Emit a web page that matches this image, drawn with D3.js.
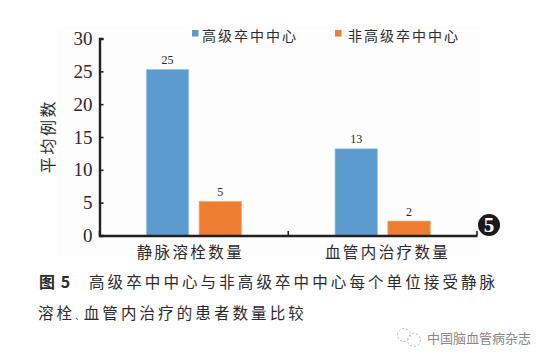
<!DOCTYPE html>
<html><head><meta charset="utf-8">
<script src="https://cdn.jsdelivr.net/npm/d3@7/dist/d3.min.js"></script>
<style>html,body{margin:0;padding:0;background:#fff}svg{display:block}
text{font-family:"Noto Sans CJK SC","Liberation Serif",serif;fill:#2a2a30}
.num{font-family:"Liberation Serif",serif}</style></head><body>
<svg id="c" width="548" height="363"></svg>
<script>
const categories=["静脉溶栓数量","血管内治疗数量"];
const seriesNames=["高级卒中中心","非高级卒中中心"];
const seriesColors=["#5b9bd0","#ed7d31"];
const highCenter=[25.3,13.2];
const otherCenter=[5.2,2.2];
const highLabels=["25","13"];
const otherLabels=["5","2"];
const yTicks=[0,5,10,15,20,25,30];
const yTitle="平均例数";
const captionHead="图 5";
const captionLine1="高级卒中中心与非高级卒中中心每个单位接受静脉";
const captionLine2=["溶栓","、","血管内治疗的患者数量比较"];
const watermark="中国脑血管病杂志";

const svg=d3.select("#c");
svg.append("rect").attr("x",57).attr("y",26).attr("width",423).attr("height",231).attr("fill","#fdfdfd");
const x=d3.scaleBand().domain(categories).range([99.5,477]);
const y=d3.scaleLinear().domain([0,30]).range([235.5,38.5]);
const BW=42.5;
const ctr=c=>x(c)+x.bandwidth()/2;
[highCenter,otherCenter].forEach((vals,s)=>{
  const labs=s?otherLabels:highLabels;
  const off=s?5.2:-47.6;
  categories.forEach((c,i)=>{
    svg.append("rect").attr("x",ctr(c)+off).attr("y",y(vals[i])).attr("width",BW).attr("height",y(0)-y(vals[i]))
      .attr("fill",seriesColors[s]).attr("stroke",s?"#f4b183":"#a9c9e8").attr("stroke-width",0.7);
    svg.append("text").attr("class","num").attr("x",ctr(c)+off+BW/2).attr("y",y(vals[i])-5.5)
      .attr("text-anchor","middle").attr("font-size",12).text(labs[i]);
  });
});
const ay=svg.append("g").attr("transform","translate(99.5,0)").call(d3.axisLeft(y).tickValues(yTicks).tickSize(-4).tickPadding(7));
ay.select(".domain").attr("stroke","#231f20").attr("stroke-width",2.4);
ay.selectAll(".tick line").attr("stroke","#231f20").attr("stroke-width",1.6);
ay.selectAll(".tick text").attr("class","num").attr("font-size",19).attr("font-family","Liberation Serif").attr("fill","#2a2a30").attr("dy","0.32em");
const ax=svg.append("g").attr("transform","translate(0,235.5)").call(d3.axisBottom(x).tickSize(0).tickPadding(9));
ax.select(".domain").attr("stroke","#231f20").attr("stroke-width",2.4);
ax.selectAll(".tick text").attr("font-size",15.5).attr("font-family","Noto Sans CJK SC").attr("fill","#2a2a30").attr("dy","0.9em")
  .attr("dx",(d,i)=>i?5:-3.5).style("letter-spacing","2.4px");
[99.5,x.range()[0]+x.bandwidth(),477].forEach(px=>svg.append("line").attr("x1",px).attr("x2",px).attr("y1",231).attr("y2",235.5).attr("stroke","#231f20").attr("stroke-width",1.6));
svg.append("text").attr("transform","translate(54,136) rotate(-90)").attr("text-anchor","middle").attr("font-size",16).style("letter-spacing","2.6px").text(yTitle);
[[192,202],[335,348]].forEach(([sx,tx],i)=>{
  svg.append("rect").attr("x",sx).attr("y",30).attr("width",6.5).attr("height",6.5).attr("fill",seriesColors[i]);
  svg.append("text").attr("x",tx).attr("y",41).attr("font-size",14).style("letter-spacing","2px").text(seriesNames[i]);
});
svg.append("circle").attr("cx",489).attr("cy",225).attr("r",11).attr("fill","#1a1a1a");
svg.append("text").attr("class","num").attr("x",489).attr("y",232).attr("text-anchor","middle").attr("font-size",21).attr("font-weight","bold").style("fill","#fff").text("5");
svg.append("text").attr("x",39).attr("y",288).attr("font-size",16).attr("font-weight","bold").style("word-spacing","2px").text(captionHead);
svg.append("text").attr("x",89).attr("y",288).attr("font-size",15.5).style("letter-spacing","3.1px").text(captionLine1);
const t2=svg.append("text").attr("x",38).attr("y",319).attr("font-size",15.5).style("letter-spacing","3.1px");
t2.append("tspan").text(captionLine2[0]);
t2.append("tspan").attr("font-size",8).style("letter-spacing","0.5px").text(captionLine2[1]);
t2.append("tspan").text(captionLine2[2]);
const w=svg.append("g").attr("fill","none").attr("stroke","#bbb").attr("stroke-width",1);
w.append("circle").attr("cx",404).attr("cy",335).attr("r",6.5).attr("stroke-dasharray","2 2");
w.append("circle").attr("cx",414).attr("cy",340).attr("r",6.5).attr("stroke-dasharray","2 2");
svg.append("text").attr("x",427).attr("y",343).attr("font-size",13).style("fill","#888").text(watermark);
</script></body></html>
